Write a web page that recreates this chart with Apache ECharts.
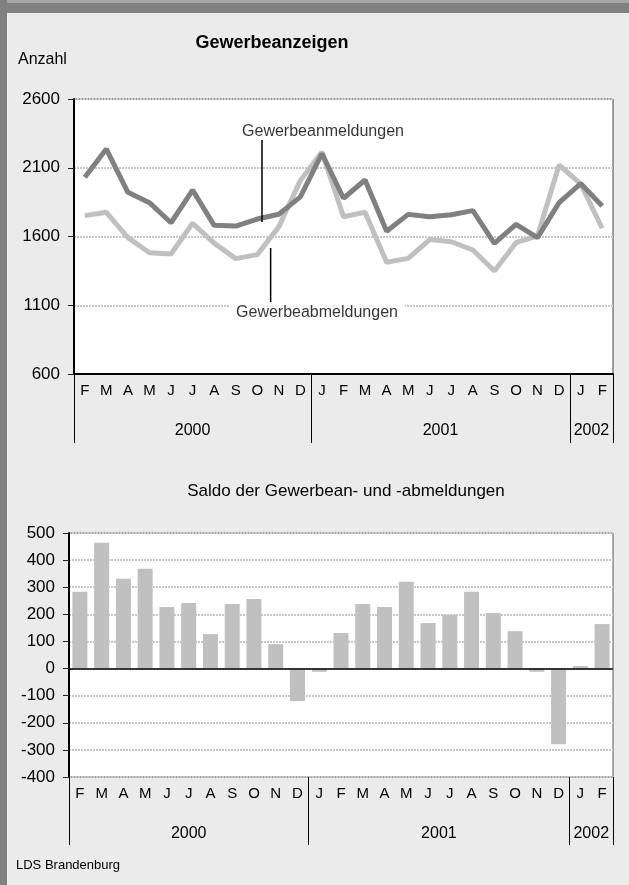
<!DOCTYPE html>
<html>
<head>
<meta charset="utf-8">
<script src="https://cdn.jsdelivr.net/npm/echarts@6/dist/echarts.min.js"></script>
<style>
html,body{margin:0;padding:0;background:#ebebeb;}
#wrap{position:relative;width:629px;height:885px;overflow:hidden;background:#ebebeb;}
#bt{position:absolute;left:0;top:0;width:629px;height:13px;background:#808080;border-top:3px solid #a6a6a6;box-sizing:border-box;}
#bl{position:absolute;left:0;top:0;width:7px;height:885px;background:#808080;}
#chart{position:absolute;left:0;top:0;width:629px;height:885px;}
</style>
</head>
<body>
<div id="wrap"><div id="bt"></div><div id="bl"></div><div id="chart"></div></div>
<script>
var months = ['F','M','A','M','J','J','A','S','O','N','D','J','F','M','A','M','J','J','A','S','O','N','D','J','F'];
var anmeldungen = [2031, 2236, 1921, 1846, 1700, 1938, 1681, 1676, 1727, 1762, 1888, 2203, 1878, 2011, 1638, 1761, 1744, 1758, 1788, 1550, 1689, 1592, 1846, 1985, 1822];
var abmeldungen = [1752, 1776, 1592, 1482, 1473, 1696, 1552, 1439, 1468, 1670, 2008, 2215, 1744, 1776, 1413, 1441, 1578, 1562, 1502, 1349, 1555, 1605, 2120, 1982, 1660];
var saldo = [283, 464, 331, 368, 227, 242, 127, 238, 257, 90, -120, -12, 131, 238, 227, 320, 168, 198, 283, 205, 138, -12, -279, 9, 164];
var yearLabels = ['2000', '2001', '2002'];
var yearLabelPos = [5.5, 17, 24];
var yearBounds = [0, 11, 23, 25];
var topTicks = [600, 2600, 500];
var bottomTicks = [-400, 500, 100];
// annotation anchors (x in month units, y in values)
var anmeldLine = [[8.72, 2302], [8.72, 1705]];
var anmeldText = [11.55, 2362];
var abmeldLine = [[9.12, 1516], [9.12, 1124]];
var abmeldText = [11.27, 1044];

var FONT = '"Liberation Sans", Arial, sans-serif';
var chart = echarts.init(document.getElementById('chart'), null, {renderer: 'canvas'});

var grid0 = {left: 74, top: 99, width: 539, height: 275, show: true, backgroundColor: '#fff', borderColor: '#444', borderWidth: 1};
var grid1 = {left: 69, top: 533, width: 544, height: 244, show: true, backgroundColor: '#fff', borderColor: '#555', borderWidth: 1};

function split() { return {show: true, lineStyle: {color: '#c8c8c8', width: 2, type: [2, 1]}}; }

function monthAxis(gi, showLine) {
  return {
    type: 'category', gridIndex: gi, data: months, boundaryGap: true,
    axisLine: {show: showLine, onZero: false, lineStyle: {color: '#000', width: 2}},
    axisTick: {show: false},
    axisLabel: {interval: 0, margin: 9, color: '#000', fontSize: 15, fontFamily: FONT},
    splitLine: {show: false}
  };
}
function yearAxis(gi, len, margin) {
  return {
    type: 'value', gridIndex: gi, min: 0, max: 25, position: 'bottom',
    axisLine: {show: false, onZero: false},
    axisTick: {show: true, customValues: yearBounds, length: len, lineStyle: {color: '#000', width: 1}},
    axisLabel: {show: true, customValues: yearLabelPos, margin: margin, color: '#000', fontSize: 16, fontFamily: FONT,
      formatter: function (v) { var i = yearLabelPos.indexOf(v); return i >= 0 ? yearLabels[i] : ''; }},
    splitLine: {show: false}
  };
}
function valAxis(gi, t) {
  return {
    type: 'value', gridIndex: gi, min: t[0], max: t[1], interval: t[2],
    axisLine: {show: true, onZero: false, lineStyle: {color: '#000', width: 2}},
    axisTick: {show: true, length: 6, lineStyle: {color: '#222', width: 1}},
    axisLabel: {margin: 14, color: '#000', fontSize: 17, fontFamily: FONT, formatter: function (v) { return String(v); }},
    splitLine: split()
  };
}

chart.setOption({
  animation: false,
  grid: [grid0, grid1],
  xAxis: [monthAxis(0, true), yearAxis(0, 69, 49), monthAxis(1, false), yearAxis(1, 68, 49)],
  yAxis: [valAxis(0, topTicks), valAxis(1, bottomTicks)],
  graphic: [
    {type: 'text', x: 272, y: 43, style: {text: 'Gewerbeanzeigen', font: 'bold 18px ' + FONT, fill: '#000', textAlign: 'center', textVerticalAlign: 'middle'}},
    {type: 'text', x: 18, y: 60, style: {text: 'Anzahl', font: '16px ' + FONT, fill: '#000', textAlign: 'left', textVerticalAlign: 'middle'}},
    {type: 'text', x: 346, y: 491, style: {text: 'Saldo der Gewerbean- und -abmeldungen', font: '17px ' + FONT, fill: '#000', textAlign: 'center', textVerticalAlign: 'middle'}},
    {type: 'text', x: 16, y: 865, style: {text: 'LDS Brandenburg', font: '13px ' + FONT, fill: '#000', textAlign: 'left', textVerticalAlign: 'middle'}}
  ],
  series: [
    {name: 'Gewerbeabmeldungen', type: 'line', xAxisIndex: 0, yAxisIndex: 0, data: abmeldungen, symbol: 'none',
      lineStyle: {color: '#c0c0c0', width: 5}, itemStyle: {color: '#c0c0c0'}, z: 3},
    {name: 'Gewerbeanmeldungen', type: 'line', xAxisIndex: 0, yAxisIndex: 0, data: anmeldungen, symbol: 'none',
      lineStyle: {color: '#808080', width: 5}, itemStyle: {color: '#808080'}, z: 4},
    {type: 'line', xAxisIndex: 1, yAxisIndex: 0, data: anmeldLine, symbol: 'none', lineStyle: {color: '#000', width: 1.5}, z: 5, silent: true},
    {type: 'line', xAxisIndex: 1, yAxisIndex: 0, data: abmeldLine, symbol: 'none', lineStyle: {color: '#000', width: 1.5}, z: 5, silent: true},
    {type: 'scatter', xAxisIndex: 1, yAxisIndex: 0, data: [anmeldText], symbolSize: 2, itemStyle: {color: 'rgba(0,0,0,0)'}, z: 6, silent: true,
      label: {show: true, position: 'inside', formatter: 'Gewerbeanmeldungen', color: '#000', fontSize: 16, fontFamily: FONT}},
    {type: 'scatter', xAxisIndex: 1, yAxisIndex: 0, data: [abmeldText], symbolSize: 2, itemStyle: {color: 'rgba(0,0,0,0)'}, z: 6, silent: true,
      label: {show: true, position: 'inside', formatter: 'Gewerbeabmeldungen', color: '#000', fontSize: 16, fontFamily: FONT,
        backgroundColor: '#fff', padding: [2, 7]}},
    {name: 'Saldo', type: 'bar', xAxisIndex: 2, yAxisIndex: 1, data: saldo, barWidth: 15, itemStyle: {color: '#c0c0c0'},
      markLine: {silent: true, symbol: 'none', label: {show: false}, lineStyle: {color: '#000', width: 1.5, type: 'solid'}, data: [{yAxis: 0}]}}
  ]
});
</script>
</body>
</html>
